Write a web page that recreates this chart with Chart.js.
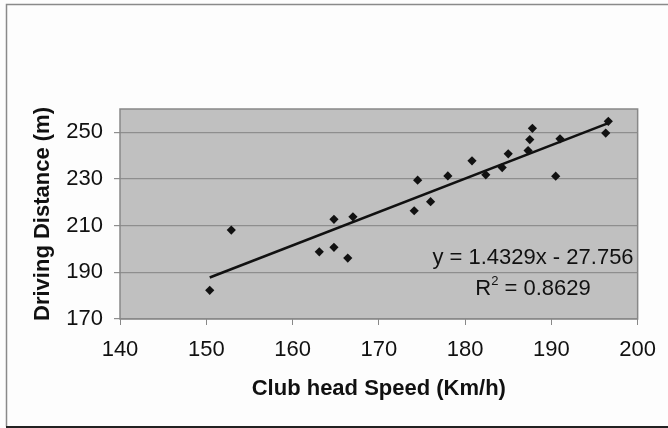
<!DOCTYPE html>
<html lang="en">
<head>
  <meta charset="UTF-8">
  <title>Driving Distance vs Club head Speed</title>
  <script src="https://cdn.jsdelivr.net/npm/chart.js"></script>
  <style>
    html, body { margin: 0; padding: 0; background: #fdfdfd; }
    #wrap { width: 668px; height: 428px; position: relative; }
  </style>
</head>
<body>
  <div id="wrap">
    <canvas id="distanceChart" width="668" height="428"></canvas>
  </div>
  <script>
    // club head speed (km/h) and driving distance (m)
    const speed = [150.4, 152.9, 163.1, 164.8, 164.8, 166.4, 167.0, 174.1, 174.5, 176.0, 178.0,
                   180.8, 182.4, 184.3, 185.0, 187.3, 187.5, 187.8, 190.5, 191.0, 196.3, 196.6];
    const distance = [182.3, 208.1, 198.8, 212.7, 200.7, 196.1, 213.8, 216.4, 229.5, 220.3, 231.3,
                      237.8, 231.8, 234.9, 240.8, 242.2, 246.9, 251.7, 231.2, 247.2, 249.7, 254.7];

    // linear trendline as printed on the chart
    const slope = 1.4329;
    const intercept = -27.756;

    const xTicks = [140, 150, 160, 170, 180, 190, 200];
    const yTicks = [170, 190, 210, 230, 250];

    const points = speed.map((s, i) => ({ x: s, y: distance[i] }));
    const xMin = Math.min(...speed);
    const xMax = Math.max(...speed);
    const trend = [
      { x: xMin, y: slope * xMin + intercept },
      { x: xMax, y: slope * xMax + intercept }
    ];

    const FONT = "'Liberation Sans', Arial, sans-serif";

    // frame, grey plot area and the regression text
    const decor = {
      id: 'decor',
      beforeDraw(chart) {
        const { ctx, chartArea: a } = chart;
        ctx.save();
        ctx.fillStyle = '#fdfdfd';
        ctx.fillRect(0, 0, chart.width, chart.height);
        ctx.strokeStyle = '#8a8a8a';
        ctx.lineWidth = 1.5;
        ctx.beginPath();
        ctx.moveTo(690, 4.5);
        ctx.lineTo(6.5, 4.5);
        ctx.lineTo(6.5, 426.5);
        ctx.stroke();
        ctx.strokeStyle = '#222';
        ctx.lineWidth = 2;
        ctx.beginPath();
        ctx.moveTo(6, 427);
        ctx.lineTo(668, 427);
        ctx.stroke();
        ctx.fillStyle = '#c0c0c0';
        ctx.fillRect(a.left, a.top, a.right - a.left, a.bottom - a.top);
        ctx.restore();
      },
      beforeDatasetsDraw(chart) {
        const { ctx, chartArea: a } = chart;
        ctx.save();
        ctx.strokeStyle = '#888';
        ctx.lineWidth = 1.5;
        ctx.strokeRect(a.left, a.top, a.right - a.left, a.bottom - a.top);
        ctx.restore();
      },
      afterDatasetsDraw(chart) {
        const { ctx } = chart;
        ctx.save();
        ctx.fillStyle = '#111';
        ctx.textBaseline = 'middle';
        ctx.font = '22px ' + FONT;
        ctx.textAlign = 'center';
        ctx.fillText('y = 1.4329x - 27.756', 533, 258);
        // R² with a small raised 2
        const rest = ' = 0.8629';
        ctx.textAlign = 'left';
        const wR = ctx.measureText('R').width;
        const wRest = ctx.measureText(rest).width;
        ctx.font = '13px ' + FONT;
        const w2 = ctx.measureText('2').width;
        const x0 = 533 - (wR + w2 + wRest) / 2;
        ctx.font = '22px ' + FONT;
        ctx.fillText('R', x0, 289);
        ctx.font = '13px ' + FONT;
        ctx.fillText('2', x0 + wR, 281);
        ctx.font = '22px ' + FONT;
        ctx.fillText(rest, x0 + wR + w2, 289);
        ctx.restore();
      }
    };

    new Chart(document.getElementById('distanceChart'), {
      type: 'scatter',
      data: {
        datasets: [
          {
            label: 'Distance',
            data: points,
            pointStyle: 'rectRot',
            pointRadius: 4.6,
            backgroundColor: '#111',
            borderColor: '#111',
            borderWidth: 0
          },
          {
            type: 'line',
            label: 'Linear fit',
            data: trend,
            borderColor: '#111',
            borderWidth: 2.6,
            pointRadius: 0,
            fill: false
          }
        ]
      },
      options: {
        responsive: false,
        animation: false,
        layout: { padding: { top: 109, right: 29, left: 7, bottom: 1 } },
        plugins: { legend: { display: false }, tooltip: { enabled: false } },
        scales: {
          x: {
            type: 'linear',
            min: 140,
            max: 200,
            afterBuildTicks: scale => { scale.ticks = xTicks.map(v => ({ value: v })); },
            afterFit: scale => { scale.height = 108; },
            grid: { drawOnChartArea: false, drawTicks: true, tickLength: 6, color: '#888' },
            border: { display: false },
            ticks: { color: '#111', padding: 12, font: { size: 22, family: FONT } },
            title: {
              display: true,
              text: 'Club head Speed (Km/h)',
              color: '#111',
              font: { size: 22, weight: 'bold', family: FONT },
              padding: { top: 0, bottom: 25 }
            }
          },
          y: {
            type: 'linear',
            min: 170,
            max: 260,
            afterBuildTicks: scale => { scale.ticks = yTicks.map(v => ({ value: v })); },
            afterFit: scale => { scale.width = 113; },
            grid: { color: '#8e8e8e', lineWidth: 1.2, tickLength: 6 },
            border: { display: false },
            ticks: { color: '#111', padding: 11, font: { size: 22, family: FONT } },
            title: {
              display: true,
              text: 'Driving Distance (m)',
              color: '#111',
              font: { size: 22, weight: 'bold', family: FONT },
              padding: { top: 23, bottom: 0 }
            }
          }
        }
      },
      plugins: [decor]
    });
  </script>
</body>
</html>
